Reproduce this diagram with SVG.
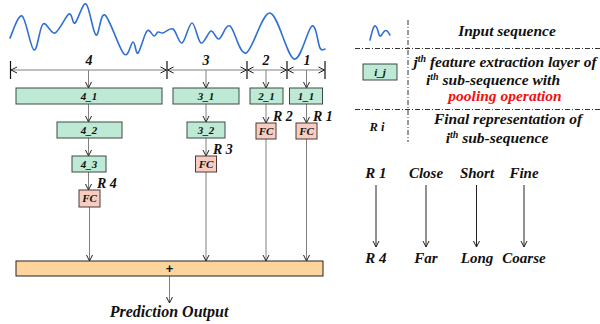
<svg xmlns="http://www.w3.org/2000/svg" width="600" height="324" viewBox="0 0 600 324">
  <style>
    .t { font-family: "Liberation Serif", "Times New Roman", serif; font-weight: bold; font-style: italic; fill: #111; }
    .lbl { font-size: 11px; text-anchor: middle; }
    .seg { font-size: 14px; text-anchor: middle; }
    .r { font-size: 14px; }
    .leg { font-size: 15.5px; text-anchor: middle; }
    .ord { font-size: 15px; text-anchor: middle; }
    .layer { fill: #bde9d5; stroke: #3d4a44; stroke-width: 1; }
    .fc { fill: #f8cdc1; stroke: #4a3b38; stroke-width: 1; }
    .link { stroke: #808080; stroke-width: 1; fill: none; marker-end: url(#head); }
    .dim { stroke: #808080; stroke-width: 1; fill: none; marker-start: url(#headS); marker-end: url(#head); }
    .tick { stroke: #111; stroke-width: 1.2; }
    .dd { stroke: #333; stroke-width: 1; stroke-dasharray: 5 2 1 2; fill: none; }
    .wave { stroke: #2f6fd6; stroke-width: 1.6; fill: none; stroke-linejoin: round; stroke-linecap: round; }
  </style>
  <defs>
    <marker id="head" viewBox="0 0 8 8" refX="7" refY="4" markerWidth="8" markerHeight="8" markerUnits="userSpaceOnUse" orient="auto">
      <path d="M1,1 L7,4 L1,7" fill="none" stroke="#222" stroke-width="1"/>
    </marker>
    <marker id="headS" viewBox="0 0 8 8" refX="1" refY="4" markerWidth="8" markerHeight="8" markerUnits="userSpaceOnUse" orient="auto">
      <path d="M7,1 L1,4 L7,7" fill="none" stroke="#222" stroke-width="1"/>
    </marker>
  </defs>

  <!-- input sequence -->
  <path class="wave" d="M10,38 C12,34.3 18,14 22,16 C26,18 30.5,48.7 34,50 C37.5,51.3 39.5,26.8 43,24 C46.5,21.2 50.7,34.7 55,33 C59.3,31.3 65.7,15.7 69,14 C72.3,12.3 72.2,24.7 75,23 C77.8,21.3 82.5,2 86,4 C89.5,6 92.8,33.2 96,35 C99.2,36.8 100.3,11.8 105,15 C109.7,18.2 119.3,49.5 124,54 C128.7,58.5 130.7,42.2 133,42 C135.3,41.8 135.7,54.8 138,53 C140.3,51.2 144.3,33.8 147,31 C149.7,28.2 152.2,35.8 154,36 C155.8,36.2 156.5,32.5 158,32 C159.5,31.5 160.5,33.5 163,33 C165.5,32.5 169.8,27.3 173,29 C176.2,30.7 178.8,44 182,43 C185.2,42 188.8,23 192,23 C195.2,23 197.8,41.7 201,43 C204.2,44.3 208,31.7 211,31 C214,30.3 215.8,39.8 219,39 C222.2,38.2 225.5,23.7 230,26 C234.5,28.3 239.3,55.2 246,53 C252.7,50.8 262,12 270,13 C278,14 287,56.8 294,59 C301,61.2 307.7,27.8 312,26 C316.3,24.2 317.8,44.2 320,48 C322.2,51.8 324.2,48.8 325,49"/>

  <!-- sub-sequence spans -->
  <g id="spans">
    <line class="tick" x1="10.5" y1="61" x2="10.5" y2="79"/>
    <line class="tick" x1="167" y1="61" x2="167" y2="79"/>
    <line class="tick" x1="247" y1="61" x2="247" y2="79"/>
    <line class="tick" x1="287" y1="61" x2="287" y2="79"/>
    <line class="tick" x1="325" y1="61" x2="325" y2="79"/>
    <line class="dim" x1="11" y1="70" x2="166.5" y2="70"/>
    <line class="dim" x1="167.5" y1="70" x2="246.5" y2="70"/>
    <line class="dim" x1="247.5" y1="70" x2="286.5" y2="70"/>
    <line class="dim" x1="287.5" y1="70" x2="324.5" y2="70"/>
    <text class="t seg" x="89" y="65">4</text>
    <text class="t seg" x="206" y="65">3</text>
    <text class="t seg" x="266" y="65">2</text>
    <text class="t seg" x="307" y="65">1</text>
  </g>

  <!-- connectors -->
  <g id="connectors">
    <line class="link" x1="88.5" y1="70" x2="88.5" y2="88"/>
    <line class="link" x1="206" y1="70" x2="206" y2="88"/>
    <line class="link" x1="266" y1="70" x2="266" y2="88"/>
    <line class="link" x1="306.5" y1="70" x2="306.5" y2="88"/>

    <line class="link" x1="88.5" y1="104" x2="88.5" y2="122"/>
    <line class="link" x1="88.5" y1="138" x2="88.5" y2="156"/>
    <line class="link" x1="88.5" y1="172" x2="88.5" y2="190"/>
    <line class="link" x1="206" y1="104" x2="206" y2="122"/>
    <line class="link" x1="206" y1="138" x2="206" y2="156"/>
    <line class="link" x1="266" y1="104" x2="266" y2="123"/>
    <line class="link" x1="306.5" y1="104" x2="306.5" y2="123"/>

    <line class="link" x1="89.5" y1="207" x2="89.5" y2="261"/>
    <line class="link" x1="206" y1="172" x2="206" y2="261"/>
    <line class="link" x1="266" y1="139" x2="266" y2="261"/>
    <line class="link" x1="306.5" y1="139" x2="306.5" y2="261"/>

    <line class="link" x1="169.5" y1="276" x2="169.5" y2="303"/>
  </g>

  <!-- feature extraction layers -->
  <g id="n4_1"><rect class="layer" x="16" y="88" width="146" height="16"/><text class="t lbl" x="89" y="100">4_1</text></g>
  <g id="n3_1"><rect class="layer" x="173" y="88" width="66" height="16"/><text class="t lbl" x="206" y="100">3_1</text></g>
  <g id="n2_1"><rect class="layer" x="250" y="88" width="33" height="16"/><text class="t lbl" x="266.5" y="100">2_1</text></g>
  <g id="n1_1"><rect class="layer" x="289.5" y="88" width="33" height="16"/><text class="t lbl" x="306" y="100">1_1</text></g>
  <g id="n4_2"><rect class="layer" x="57" y="122" width="65" height="16"/><text class="t lbl" x="89" y="134">4_2</text></g>
  <g id="n3_2"><rect class="layer" x="187" y="122" width="38" height="16"/><text class="t lbl" x="206" y="134">3_2</text></g>
  <g id="n4_3"><rect class="layer" x="72" y="156" width="34" height="16"/><text class="t lbl" x="89" y="168">4_3</text></g>

  <!-- fully connected heads -->
  <g id="fc4"><rect class="fc" x="79" y="190" width="21" height="17"/><text class="t lbl" x="89.5" y="202">FC</text><text class="t r" x="97" y="188">R 4</text></g>
  <g id="fc3"><rect class="fc" x="195.5" y="156" width="21" height="16"/><text class="t lbl" x="206" y="168">FC</text><text class="t r" x="213" y="154">R 3</text></g>
  <g id="fc2"><rect class="fc" x="256" y="123" width="20" height="16"/><text class="t lbl" x="266" y="135">FC</text><text class="t r" x="273" y="121">R 2</text></g>
  <g id="fc1"><rect class="fc" x="296" y="123" width="21" height="16"/><text class="t lbl" x="306.5" y="135">FC</text><text class="t r" x="313" y="121">R 1</text></g>

  <!-- summation -->
  <g id="sum">
    <rect x="16" y="261" width="307" height="15" fill="#fdd49b" stroke="#222" stroke-width="1"/>
    <text x="169.5" y="273" font-family="Liberation Sans, Arial, sans-serif" font-weight="bold" font-size="13" text-anchor="middle" fill="#111">+</text>
  </g>
  <text class="t" x="169" y="317" font-size="16" text-anchor="middle">Prediction Output</text>

  <!-- legend -->
  <g id="legend">
    <line class="dd" x1="408" y1="20" x2="408" y2="142"/>
    <line class="dd" x1="355" y1="48.5" x2="600" y2="48.5"/>
    <line class="dd" x1="355" y1="109.5" x2="600" y2="109.5"/>
    <path class="wave" d="M370,40 C372,32 373.5,25 375.5,26 C378,27 378.5,37 380.5,36 C382.5,35 383.5,30 386,30.5 C388.5,31 389,34 390,35"/>
    <text class="t leg" x="507" y="36">Input sequence</text>
    <rect class="layer" x="363" y="64" width="34" height="16"/>
    <text class="t lbl" x="380" y="76">i_j</text>
    <text class="t leg" x="505" y="67">j<tspan font-size="10" dy="-5">th</tspan><tspan dy="5"> feature extraction layer of</tspan></text>
    <text class="t leg" x="493" y="85">i<tspan font-size="10" dy="-5">th</tspan><tspan dy="5"> sub-sequence with</tspan></text>
    <text class="t leg" x="505" y="101" style="fill:#f01010">pooling operation</text>
    <text class="t" x="377" y="131" font-size="12.5" text-anchor="middle">R i</text>
    <text class="t leg" x="508" y="124">Final representation of</text>
    <text class="t leg" x="497" y="143">i<tspan font-size="10" dy="-5">th</tspan><tspan dy="5"> sub-sequence</tspan></text>
  </g>

  <!-- scale ordering -->
  <g id="ordering">
    <text class="t ord" x="376" y="178">R 1</text>
    <text class="t ord" x="426" y="178">Close</text>
    <text class="t ord" x="477" y="178">Short</text>
    <text class="t ord" x="524" y="178">Fine</text>
    <line x1="376" y1="185" x2="376" y2="247" stroke="#222" stroke-width="1" marker-end="url(#head)"/>
    <line x1="426" y1="185" x2="426" y2="247" stroke="#222" stroke-width="1" marker-end="url(#head)"/>
    <line x1="476.5" y1="185" x2="476.5" y2="247" stroke="#222" stroke-width="1" marker-end="url(#head)"/>
    <line x1="524" y1="185" x2="524" y2="247" stroke="#222" stroke-width="1" marker-end="url(#head)"/>
    <text class="t ord" x="376" y="263">R 4</text>
    <text class="t ord" x="426" y="263">Far</text>
    <text class="t ord" x="477" y="263">Long</text>
    <text class="t ord" x="524" y="263">Coarse</text>
  </g>
</svg>
